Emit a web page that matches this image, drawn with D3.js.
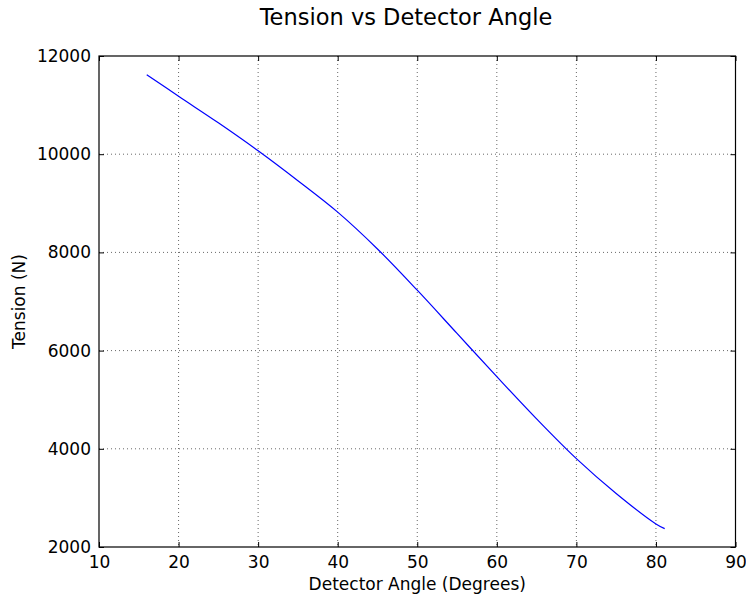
<!DOCTYPE html>
<html>
<head>
<meta charset="utf-8">
<script src="https://cdn.jsdelivr.net/npm/d3@7"></script>
<style>
  html, body { margin: 0; padding: 0; background: #fff; }
  text { font-family: "DejaVu Sans", sans-serif; fill: #000; }
</style>
</head>
<body>
<svg id="chart" width="746" height="598"></svg>
<script>
const angles   = [16, 20, 25, 30, 35, 40, 45, 50, 55, 60, 65, 70, 75, 80, 81.1];
const tensions = [11620, 11180, 10640, 10070, 9460, 8820, 8070, 7230, 6350, 5470, 4610, 3800, 3090, 2470, 2375];
const xTicks = [10, 20, 30, 40, 50, 60, 70, 80, 90];
const yTicks = [2000, 4000, 6000, 8000, 10000, 12000];

const title = "Tension vs Detector Angle";
const xLabel = "Detector Angle (Degrees)";
const yLabel = "Tension (N)";

const svg = d3.select("#chart");
const L = 99, R = 735.5, T = 56, B = 547;

const x = d3.scaleLinear().domain([10, 90]).range([L, R]);
const y = d3.scaleLinear().domain([2000, 12000]).range([B, T]);

// grid
const g = svg.append("g");
g.selectAll(".gx").data(xTicks.slice(1, -1)).enter().append("line")
  .attr("x1", d => x(d)).attr("x2", d => x(d)).attr("y1", T).attr("y2", B)
  .attr("stroke", "#000").attr("stroke-width", 0.6).attr("stroke-dasharray", "1,3");
g.selectAll(".gy").data(yTicks.slice(1, -1)).enter().append("line")
  .attr("y1", d => y(d)).attr("y2", d => y(d)).attr("x1", L).attr("x2", R)
  .attr("stroke", "#000").attr("stroke-width", 0.6).attr("stroke-dasharray", "1,3");

// data line
const data = angles.map((a, i) => [a, tensions[i]]);
svg.append("path").datum(data)
  .attr("d", d3.line().x(d => x(d[0])).y(d => y(d[1])).curve(d3.curveCatmullRom))
  .attr("fill", "none").attr("stroke", "#0000ff").attr("stroke-width", 1.2);

// axes with inside ticks
const fs = "17px";
const xb = svg.append("g").attr("transform", `translate(0,${B})`)
  .call(d3.axisBottom(x).tickValues(xTicks).tickSizeInner(-5).tickSizeOuter(0).tickPadding(9).tickFormat(d3.format("d")));
const xt = svg.append("g").attr("transform", `translate(0,${T})`)
  .call(d3.axisTop(x).tickValues(xTicks).tickSizeInner(-5).tickSizeOuter(0).tickFormat(""));
const yl = svg.append("g").attr("transform", `translate(${L},0)`)
  .call(d3.axisLeft(y).tickValues(yTicks).tickSizeInner(-5).tickSizeOuter(0).tickPadding(8).tickFormat(d3.format("d")));
const yr = svg.append("g").attr("transform", `translate(${R},0)`)
  .call(d3.axisRight(y).tickValues(yTicks).tickSizeInner(-5).tickSizeOuter(0).tickFormat(""));
[xb, xt, yl, yr].forEach(a => {
  a.select(".domain").remove();
  a.selectAll("line").attr("stroke", "#000").attr("stroke-width", 1);
  a.selectAll("text").style("font-family", "DejaVu Sans").style("font-size", fs).attr("fill", "#000");
});

// frame
svg.append("rect").attr("x", L).attr("y", T).attr("width", R - L).attr("height", B - T)
  .attr("fill", "none").attr("stroke", "#000").attr("stroke-width", 1.2);

// labels
svg.append("text").attr("x", 406).attr("y", 25).attr("text-anchor", "middle")
  .style("font-size", "22.5px").text(title);
svg.append("text").attr("x", (L + R) / 2).attr("y", 590).attr("text-anchor", "middle")
  .style("font-size", "17px").text(xLabel);
svg.append("text").attr("transform", `translate(25,${(T + B) / 2}) rotate(-90)`)
  .attr("text-anchor", "middle").style("font-size", "17px").text(yLabel);
</script>
</body>
</html>
